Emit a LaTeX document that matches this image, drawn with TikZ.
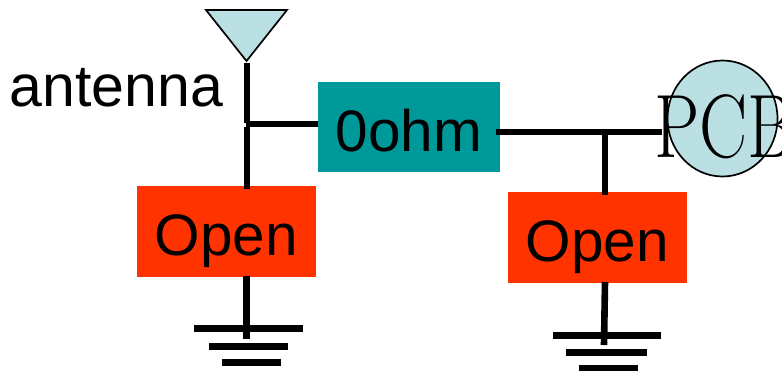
\documentclass[tikz,border=0pt]{standalone}
\usepackage{fontspec}
\usetikzlibrary{shapes.geometric}
\newfontfamily\labelfont{Liberation Sans}
\definecolor{tealbox}{HTML}{009999}
\definecolor{redbox}{HTML}{FF3300}
\definecolor{paleblue}{HTML}{BBE0E3}
\tikzset{
  wire/.style={line width=6.6pt,black},
  bar/.style={line width=7pt,black},
  outlined/.style={draw=black,line width=1.7pt,fill=paleblue},
  part/.style={anchor=north west,inner sep=0pt,outer sep=0pt,text=black,
    text height=69pt,text depth=#1,align=center,
    font=\labelfont\fontsize{58.5}{60}\selectfont},
}
\begin{document}
\begin{tikzpicture}[x=1pt,y=-1pt]
\useasboundingbox (0,0) rectangle (782,370);
\clip (0,0) rectangle (782,370);
% antenna
\coordinate (antL) at (206,10);
\coordinate (antR) at (287,10);
\coordinate (antTip) at (246.5,61);
\draw[outlined,line join=miter] (antL) -- (antR) -- (antTip) -- cycle;
\node[anchor=base west,inner sep=0pt,font=\labelfont\fontsize{59}{60}\selectfont] (antlabel) at (9.5,106) {antenna};
% PCB
\node[outlined,ellipse,minimum width=110pt,minimum height=116pt,inner sep=0pt] (pcb) at (722.5,118.5) {};
% parts
\node[part=21pt,fill=tealbox,text width=182.5pt] (ohm) at (317.5,82) {0ohm};
\node[part=22pt,fill=redbox,text width=179pt] (open1) at (137,186) {Open};
\node[part=22pt,fill=redbox,text width=179.5pt] (open2) at (507.5,192) {Open};
\node[anchor=base west,inner sep=0pt,xscale=.8,transform shape,font=\fontsize{90}{90}\selectfont] (pcblabel) at (654,157) {PCB};
% junctions and wire ends
\coordinate (antTop) at (247,63);
\coordinate (antJ1) at (247,122.7);
\coordinate (antJ2) at (247,126.5);
\coordinate (antH) at (246,124);
\coordinate (ohmL) at (318,124);
\coordinate (ohmR) at (496,132);
\coordinate (pcbL) at (662,132);
\coordinate (pcbJ) at (605,132);
\coordinate (o1top) at (247,189);
\coordinate (o1bot) at (246.5,276);
\coordinate (g1end) at (246.5,339);
\coordinate (o2top) at (605,195);
\coordinate (o2bot) at (605,282);
\coordinate (g2end) at (604,345);
% wires
\draw[wire] (antTop) -- (antJ1);
\draw[wire] (antJ2) -- (o1top);
\draw[wire] (antH) -- (ohmL);
\draw[wire] (ohmR) -- (pcbL);
\draw[wire] (pcbJ) -- (o2top);
\draw[wire] (o1bot) -- (g1end);
\draw[wire] (o2bot) -- (g2end);
% grounds
\draw[bar] (194,328) coordinate (g1a) -- (303,328) coordinate (g1b);
\draw[bar] (209,346.5) coordinate (g1c) -- (288,346.5) coordinate (g1d);
\draw[bar] (222,362) coordinate (g1e) -- (281,362) coordinate (g1f);
\draw[bar] (553,335.5) coordinate (g2a) -- (661,335.5) coordinate (g2b);
\draw[bar] (566,352.5) coordinate (g2c) -- (647,352.5) coordinate (g2d);
\draw[bar] (579,368.5) coordinate (g2e) -- (638,368.5) coordinate (g2f);
\end{tikzpicture}
\end{document}
